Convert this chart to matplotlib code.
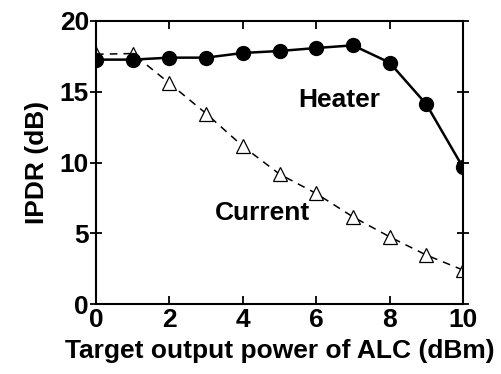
import matplotlib.pyplot as plt

plt.rcParams['font.family'] = ['Liberation Sans', 'DejaVu Sans']
plt.rcParams['font.weight'] = 'bold'

# ===== data =====
target_power = [0, 1, 2, 3, 4, 5, 6, 7, 8, 9, 10]
ipdr_heater = [17.27, 17.27, 17.41, 17.41, 17.74, 17.88, 18.09, 18.28, 17.06, 14.12, 9.65]
ipdr_current = [17.65, 17.7, 15.6, 13.46, 11.15, 9.18, 7.81, 6.16, 4.75, 3.46, 2.4]

fig = plt.figure(figsize=(5.01, 3.74), dpi=100)
ax = fig.add_axes([96 / 501, 70 / 374, 367 / 501, 283 / 374])

ax.plot(target_power, ipdr_current, color='k', lw=1.1, ls=(0, (5, 4)),
        marker='^', ms=10, mfc='white', mec='k', mew=0.9, zorder=2)
ax.plot(target_power, ipdr_heater, color='k', lw=1.8,
        marker='o', ms=10, mfc='k', mec='k', zorder=3)

ax.text(6.64, 14.4, 'Heater', fontsize=19, fontweight='bold', ha='center', va='center')
ax.text(4.53, 6.4, 'Current', fontsize=19, fontweight='bold', ha='center', va='center')

ax.set_xlim(0, 10)
ax.set_ylim(0, 20)
ax.set_xticks([0, 2, 4, 6, 8, 10])
ax.set_yticks([0, 5, 10, 15, 20])
ax.tick_params(axis='x', direction='in', top=True, length=6, width=1.3,
               labelsize=19, pad=3)
ax.tick_params(axis='y', direction='inout', right=True, length=8, width=1.3,
               labelsize=19, pad=1)
for s in ax.spines.values():
    s.set_linewidth(1.5)

ax.set_xlabel('Target output power of ALC (dBm)', fontsize=19, fontweight='bold', labelpad=5)
ax.set_ylabel('IPDR (dB)', fontsize=19, fontweight='bold', labelpad=8)

fig.savefig('out.png', dpi=100)
